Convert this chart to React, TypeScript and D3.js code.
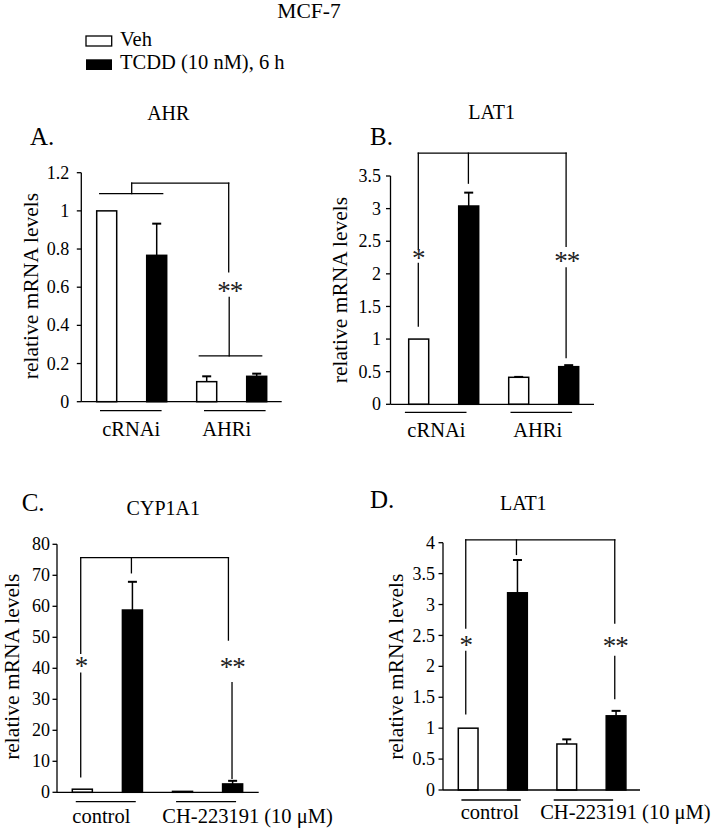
import React from "react";
import * as d3 from "d3";

// ---------- data ----------
const seriesNames = ["Veh", "TCDD (10 nM), 6 h"];
const figureTitle = "MCF-7";

const aGroups = ["cRNAi", "AHRi"];
const aVeh = [1.0, 0.105];
const aVehErr = [0, 0.028];
const aTcdd = [0.767, 0.133];
const aTcddErr = [0.166, 0.014];
const aTicks = [0, 0.2, 0.4, 0.6, 0.8, 1, 1.2];

const bGroups = ["cRNAi", "AHRi"];
const bVeh = [1.0, 0.414];
const bVehErr = [0, 0.006];
const bTcdd = [3.04, 0.577];
const bTcddErr = [0.205, 0.023];
const bTicks = [0, 0.5, 1, 1.5, 2, 2.5, 3, 3.5];

const cGroups = ["control", "CH-223191 (10 μM)"];
const cVeh = [1.0, 0.3];
const cVehErr = [0, 0];
const cTcdd = [58.8, 2.7];
const cTcddErr = [9.1, 1.0];
const cTicks = [0, 10, 20, 30, 40, 50, 60, 70, 80];

const dGroups = ["control", "CH-223191 (10 μM)"];
const dVeh = [1.0, 0.744];
const dVehErr = [0, 0.075];
const dTcdd = [3.19, 1.2];
const dTcddErr = [0.53, 0.08];
const dTicks = [0, 0.5, 1, 1.5, 2, 2.5, 3, 3.5, 4];

// ---------- layout ----------
const FONT = "'Liberation Serif', 'Times New Roman', serif";
const SW = 1.3;

type Seg = { x1: [number, number]; v1: number; x2: [number, number]; v2: number };
// x reference: [barIndex (0..3) or group center (10,11), pixel offset]

const panels = [
  {
    letter: "A.", letterX: 30, letterY: 145,
    title: "AHR", titleX: 168.3, titleY: 120,
    groups: aGroups, veh: aVeh, vehErr: aVehErr, tcdd: aTcdd, tcddErr: aTcddErr, ticks: aTicks,
    axisX0: 81.3, axisX1: 281.7, y0: 401.7, vTop: 1.2, yTop: 172.7,
    barX0: 96.7, step: 50, labelGap: 12,
    yLabelX: 38, yLabelY: 286,
    underY: 9, underDx: [-0.9, 3.1], underHW: 30.8,
    grpLabelY: 436, grpLabelDx: [-0.5, -5],
    segs: [
      { x1: [0, -7], v1: 1.09, x2: [1, 6], v2: 1.09 },
      { x1: [10, 0], v1: 1.09, x2: [10, 0], v2: 1.145 },
      { x1: [10, 0], v1: 1.145, x2: [11, -3], v2: 1.145 },
      { x1: [11, -3], v1: 1.145, x2: [11, -3], v2: 0.68 },
      { x1: [11, -2.5], v1: 0.547, x2: [11, -2.5], v2: 0.24 },
      { x1: [2, -7.4], v1: 0.24, x2: [3, 5], v2: 0.24 },
    ] as Seg[],
    stars: [{ x: [11, -2], v: 0.595, t: "**" }],
  },
  {
    letter: "B.", letterX: 370, letterY: 144.5,
    title: "LAT1", titleX: 491.7, titleY: 118.5,
    groups: bGroups, veh: bVeh, vehErr: bVehErr, tcdd: bTcdd, tcddErr: bTcddErr, ticks: bTicks,
    axisX0: 390.5, axisX1: 594, y0: 404.3, vTop: 3.5, yTop: 176,
    barX0: 408.7, step: 50, labelGap: 9.5,
    yLabelX: 347, yLabelY: 290,
    underY: 8, underDx: [-8, -2.4], underHW: 30.8,
    grpLabelY: 437, grpLabelDx: [-7.3, -6],
    segs: [
      { x1: [0, -0.4], v1: 3.85, x2: [3, -2.6], v2: 3.85 },
      { x1: [0, -0.4], v1: 3.85, x2: [0, -0.4], v2: 2.38 },
      { x1: [0, -0.4], v1: 2.16, x2: [0, -0.4], v2: 1.2 },
      { x1: [1, -0.3], v1: 3.85, x2: [1, -0.3], v2: 3.39 },
      { x1: [3, -2.6], v1: 3.85, x2: [3, -2.6], v2: 2.42 },
      { x1: [3, -2.6], v1: 2.09, x2: [3, -2.6], v2: 0.715 },
    ] as Seg[],
    stars: [
      { x: [0, -0.4], v: 2.29, t: "*" },
      { x: [3, -2], v: 2.24, t: "**" },
    ],
  },
  {
    letter: "C.", letterX: 21.7, letterY: 510.5,
    title: "CYP1A1", titleX: 163.3, titleY: 515,
    groups: cGroups, veh: cVeh, vehErr: cVehErr, tcdd: cTcdd, tcddErr: cTcddErr, ticks: cTicks,
    axisX0: 57, axisX1: 258.7, y0: 792.3, vTop: 80, yTop: 544.3,
    barX0: 72.3, step: 50.1, labelGap: 7,
    yLabelX: 19, yLabelY: 666.7,
    underY: 9.4, underDx: [-1.6, -1.5], underHW: 30,
    grpLabelY: 823, grpLabelDx: [-6, 40],
    segs: [
      { x1: [0, -1.6], v1: 75.7, x2: [3, -4.2], v2: 75.7 },
      { x1: [1, -1], v1: 75.7, x2: [1, -1], v2: 70.8 },
      { x1: [0, -1.6], v1: 75.7, x2: [0, -1.6], v2: 44.8 },
      { x1: [0, -1.6], v1: 38.4, x2: [0, -1.6], v2: 5.0 },
      { x1: [3, -4.2], v1: 75.7, x2: [3, -4.2], v2: 49.1 },
      { x1: [3, -0.6], v1: 35.4, x2: [3, -0.6], v2: 4.5 },
    ] as Seg[],
    stars: [
      { x: [0, -1.4], v: 41.8, t: "*" },
      { x: [3, -0.4], v: 41.4, t: "**" },
    ],
  },
  {
    letter: "D.", letterX: 370, letterY: 508.3,
    title: "LAT1", titleX: 523.3, titleY: 510,
    groups: dGroups, veh: dVeh, vehErr: dVehErr, tcdd: dTcdd, tcddErr: dTcddErr, ticks: dTicks,
    axisX0: 443, axisX1: 640, y0: 790, vTop: 4, yTop: 542.7,
    barX0: 458.3, step: 49.3, labelGap: 8,
    yLabelX: 403, yLabelY: 666.7,
    underY: 10, underDx: [-1.7, -8], underHW: 29.7,
    grpLabelY: 819, grpLabelDx: [-3, 34],
    segs: [
      { x1: [0, -2.4], v1: 4.045, x2: [3, -1.3], v2: 4.045 },
      { x1: [1, -1], v1: 4.045, x2: [1, -1], v2: 3.81 },
      { x1: [0, -2.4], v1: 4.045, x2: [0, -2.4], v2: 2.62 },
      { x1: [0, -2.4], v1: 2.24, x2: [0, -2.4], v2: 1.23 },
      { x1: [3, -1.3], v1: 4.045, x2: [3, -1.3], v2: 2.7 },
      { x1: [3, -1.3], v1: 2.16, x2: [3, -1.3], v2: 1.48 },
    ] as Seg[],
    stars: [
      { x: [0, -2.4], v: 2.4, t: "*" },
      { x: [3, -0.8], v: 2.37, t: "**" },
    ],
  },
];

function fmt(v: number) {
  return String(+v.toFixed(2));
}

function Panel({ p }: { p: (typeof panels)[number] }) {
  const keys = ["g0veh", "g0tcdd", "g1veh", "g1tcdd"];
  const x = d3
    .scaleBand<string>()
    .domain(keys)
    .range([p.barX0 - 0.3 * p.step, p.barX0 + 3.7 * p.step])
    .paddingInner(0.6)
    .paddingOuter(0.3);
  const y = d3.scaleLinear().domain([0, p.vTop]).range([p.y0, p.yTop]);
  const bw = x.bandwidth();

  const bars = p.groups.flatMap((g, gi) => [
    { key: keys[gi * 2], v: p.veh[gi], e: p.vehErr[gi], fill: "#fff" },
    { key: keys[gi * 2 + 1], v: p.tcdd[gi], e: p.tcddErr[gi], fill: "#000" },
  ]);
  const barC = (i: number) => (x(keys[i]) as number) + bw / 2;
  const grpC = (gi: number) => (barC(gi * 2) + barC(gi * 2 + 1)) / 2;
  const ref = (r: number[]) => (r[0] >= 10 ? grpC(r[0] - 10) : barC(r[0])) + r[1];

  return (
    <g>
      <text x={p.letterX} y={p.letterY} fontSize={25} fontFamily={FONT}>{p.letter}</text>
      <text x={p.titleX} y={p.titleY} fontSize={20} fontFamily={FONT} textAnchor="middle">{p.title}</text>
      <text
        transform={`translate(${p.yLabelX},${p.yLabelY}) rotate(-90)`}
        fontSize={21.5}
        fontFamily={FONT}
        textAnchor="middle"
      >
        relative mRNA levels
      </text>
      {/* y axis */}
      <line x1={p.axisX0} x2={p.axisX0} y1={y(p.vTop)} y2={p.y0} stroke="#000" strokeWidth={SW} />
      {p.ticks.map((t) => (
        <g key={t}>
          <line x1={p.axisX0 - 4.5} x2={p.axisX0} y1={y(t)} y2={y(t)} stroke="#000" strokeWidth={SW} />
          <text
            x={p.axisX0 - p.labelGap}
            y={y(t)}
            dy="0.34em"
            fontSize={18}
            fontFamily={FONT}
            textAnchor="end"
          >
            {fmt(t)}
          </text>
        </g>
      ))}
      {/* bars */}
      {bars.map((b, i) => (
        <g key={b.key}>
          {b.e > 0 && (
            <g>
              <line x1={barC(i)} x2={barC(i)} y1={y(b.v)} y2={y(b.v + b.e)} stroke="#000" strokeWidth={1.5} />
              <line x1={barC(i) - 4.5} x2={barC(i) + 4.5} y1={y(b.v + b.e)} y2={y(b.v + b.e)} stroke="#000" strokeWidth={2} />
            </g>
          )}
          <rect
            x={x(b.key)}
            y={y(b.v)}
            width={bw}
            height={p.y0 - y(b.v)}
            fill={b.fill}
            stroke="#000"
            strokeWidth={1.5}
          />
        </g>
      ))}
      {/* x axis */}
      <line x1={p.axisX0} x2={p.axisX1} y1={p.y0} y2={p.y0} stroke="#000" strokeWidth={SW} />
      {/* group underlines and labels */}
      {p.groups.map((g, gi) => (
        <g key={g}>
          <line
            x1={grpC(gi) + p.underDx[gi] - p.underHW}
            x2={grpC(gi) + p.underDx[gi] + p.underHW}
            y1={p.y0 + p.underY}
            y2={p.y0 + p.underY}
            stroke="#000"
            strokeWidth={SW}
          />
          <text
            x={grpC(gi) + p.grpLabelDx[gi]}
            y={p.grpLabelY}
            fontSize={20.5}
            fontFamily={FONT}
            textAnchor="middle"
          >
            {g}
          </text>
        </g>
      ))}
      {/* significance brackets */}
      {p.segs.map((s, i) => (
        <line
          key={i}
          x1={ref(s.x1)}
          x2={ref(s.x2)}
          y1={y(s.v1)}
          y2={y(s.v2)}
          stroke="#000"
          strokeWidth={SW}
          strokeLinecap="square"
        />
      ))}
      {p.stars.map((s, i) => (
        <text
          key={i}
          x={ref(s.x as number[])}
          y={y(s.v) + 12}
          fontSize={27}
          fontFamily={FONT}
          textAnchor="middle"
          letterSpacing={-1}
          fill="#222"
        >
          {s.t}
        </text>
      ))}
    </g>
  );
}

export default function App() {
  return (
    <svg
      width={714}
      height={831}
      style={{ position: "absolute", left: 0, top: 0, background: "#fff" }}
    >
      <rect width={714} height={831} fill="#fff" />
      <text x={309} y={18.3} fontSize={21.5} fontFamily={FONT} textAnchor="middle">{figureTitle}</text>
      <rect x={86} y={36} width={25.7} height={10} fill="#fff" stroke="#000" strokeWidth={1.3} />
      <text x={120} y={46} fontSize={20.5} fontFamily={FONT}>{seriesNames[0]}</text>
      <rect x={86} y={59.3} width={26} height={10.7} fill="#000" />
      <text x={120} y={68.5} fontSize={20.5} fontFamily={FONT}>{seriesNames[1]}</text>
      {panels.map((p) => (
        <Panel key={p.letter} p={p} />
      ))}
    </svg>
  );
}
